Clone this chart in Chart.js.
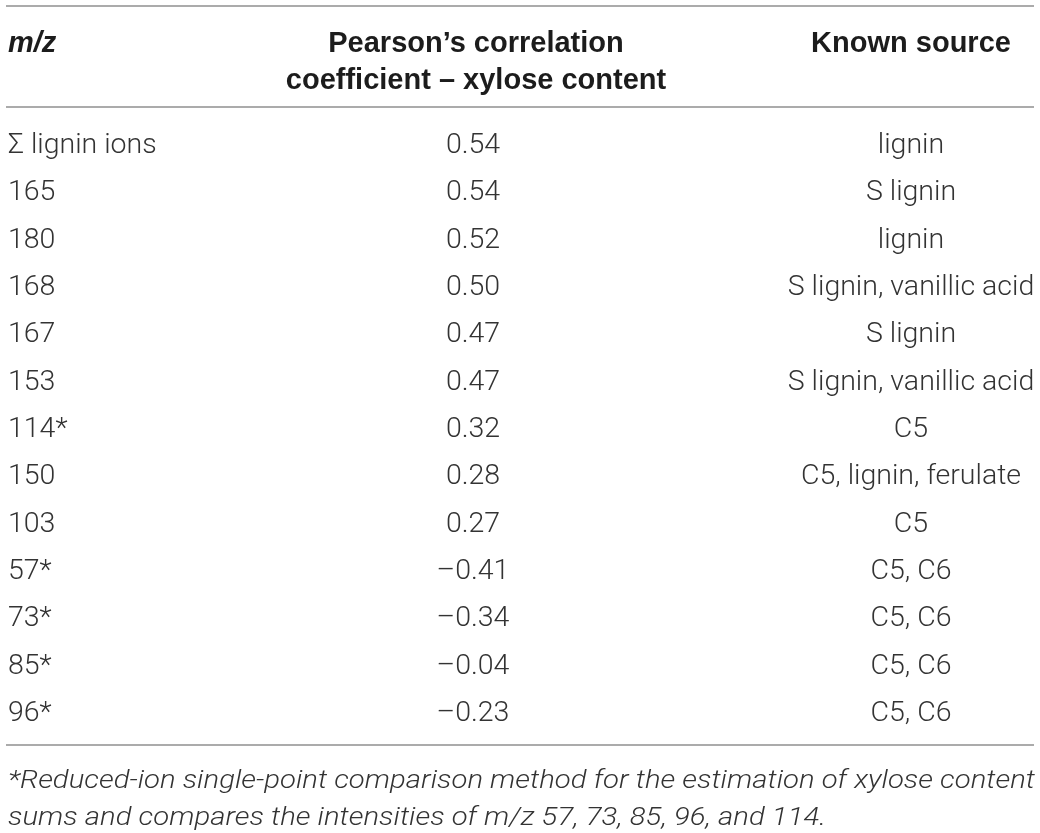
<!DOCTYPE html>
<html><head><meta charset="utf-8">
<script src="https://cdn.jsdelivr.net/npm/chart.js@4.4.0/dist/chart.umd.min.js"></script>
<style>html,body{margin:0;padding:0;background:#fff;overflow:hidden}#wrap{width:1040px;height:833px;position:relative}</style>
</head><body><div id="wrap"><canvas id="c"></canvas></div>
<script>
// ---- table content ----
const headerMz = 'm/z';
const headerCorr = ['Pearson\u2019s correlation', 'coefficient \u2013 xylose content'];
const headerSource = 'Known source';
const ions = ['\u03A3 lignin ions','165','180','168','167','153','114*','150','103','57*','73*','85*','96*'];
const correlation = [0.54,0.54,0.52,0.50,0.47,0.47,0.32,0.28,0.27,-0.41,-0.34,-0.04,-0.23];
const sources = ['lignin','S lignin','lignin','S lignin, vanillic acid','S lignin','S lignin, vanillic acid','C5','C5, lignin, ferulate','C5','C5, C6','C5, C6','C5, C6','C5, C6'];
const footnote = ['*Reduced-ion single-point comparison method for the estimation of xylose content','sums and compares the intensities of m/z 57, 73, 85, 96, and 114.'];

// ---- layout / style ----
const W = 1040, H = 833;
const firstBaseline = 153, lastBaseline = 721;
const colMz = 8, colCorr = 473, colSrc = 911;
const ruleLeft = 6, ruleRight = 1034;
const bodyFont = '300 28.5px Roboto, "Liberation Sans", sans-serif';
const headFont = 'bold 29px "Liberation Sans", Arial, sans-serif';
const noteFont = 'italic 300 26px Roboto, "Liberation Sans", sans-serif';
const bodyColor = '#333333', headColor = '#1c1c1c', ruleColor = '#ababab';

function fmt(v){ const s = Math.abs(v).toFixed(2); return v < 0 ? '\u2013' + s : s; }

const tablePlugin = {
  id: 'tableText',
  afterDraw(chart){
    const ctx = chart.ctx, y = chart.scales.y, ca = chart.chartArea;
    ctx.save();
    // rules
    ctx.strokeStyle = ruleColor; ctx.lineWidth = 2;
    const rule = yy => { ctx.beginPath(); ctx.moveTo(ruleLeft, yy); ctx.lineTo(ruleRight, yy); ctx.stroke(); };
    rule(ca.top - 147);
    rule(ca.top - 46);
    rule(ca.bottom + 24);
    // header
    ctx.fillStyle = headColor; ctx.textBaseline = 'alphabetic';
    ctx.font = 'italic ' + headFont; ctx.textAlign = 'left';
    ctx.fillText(headerMz, colMz, ca.top - 101);
    ctx.font = headFont; ctx.textAlign = 'center';
    ctx.fillText(headerCorr[0], colCorr + 3, ca.top - 101);
    ctx.fillText(headerCorr[1], colCorr + 3, ca.top - 64);
    ctx.fillText(headerSource, colSrc, ca.top - 101);
    // body rows
    ctx.fillStyle = bodyColor; ctx.font = bodyFont;
    ions.forEach((lab, i) => {
      const py = y.getPixelForValue(i);
      ctx.textAlign = 'left'; ctx.fillText(lab, colMz, py);
      ctx.textAlign = 'center'; ctx.fillText(fmt(correlation[i]), colCorr, py);
      ctx.fillText(sources[i], colSrc, py);
    });
    // footnote
    ctx.font = noteFont; ctx.textAlign = 'left';
    const target = 1027;
    const w0 = ctx.measureText(footnote[0]).width;
    const sx = target / w0;
    footnote.forEach((t, k) => {
      ctx.save();
      ctx.translate(colMz, ca.bottom + 67 + k * 37);
      ctx.scale(sx, 1);
      ctx.fillText(t, 0, 0);
      ctx.restore();
    });
    ctx.restore();
  }
};

new Chart(document.getElementById('c'), {
  type: 'bar',
  data: { labels: ions, datasets: [{ data: correlation, backgroundColor: 'rgba(0,0,0,0)', borderWidth: 0 }] },
  options: {
    indexAxis: 'y', responsive: true, maintainAspectRatio: false, animation: false,
    layout: { padding: { top: firstBaseline, bottom: H - lastBaseline, left: 0, right: 0 } },
    plugins: { legend: { display: false }, tooltip: { enabled: false } },
    scales: {
      y: { type: 'category', offset: false, display: false },
      x: { type: 'linear', min: -1, max: 1, display: false }
    }
  },
  plugins: [tablePlugin]
});
</script></body></html>
